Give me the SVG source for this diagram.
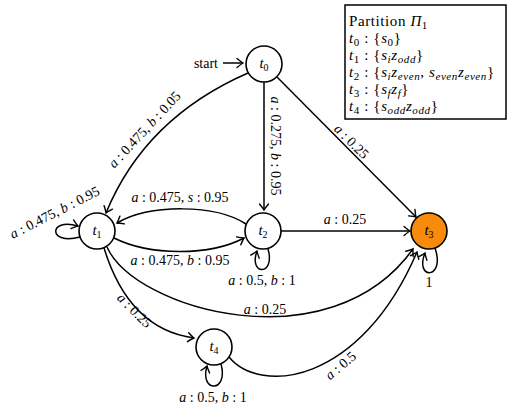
<svg xmlns="http://www.w3.org/2000/svg" width="508" height="408" viewBox="0 0 508 408">
<style>
text{font-family:"Liberation Serif","DejaVu Serif",serif;fill:#000}
.lb{font-size:14px}
.bx{font-size:15px;letter-spacing:0.6px}
.nd{font-size:15px}
.i{font-style:italic}
.sb{font-size:10px}
.bsb{font-size:11px}
.node circle{stroke:#000;stroke-width:1.6;fill:#fff}
.edge{fill:none;stroke:#000;stroke-width:1.5}
</style>
<defs>
<marker id="ah" viewBox="-8 -6 10 12" refX="0" refY="0" markerWidth="10" markerHeight="12" orient="auto" markerUnits="userSpaceOnUse">
<path d="M -6 -4.5 Q -1.8 -1 0 0 Q -1.8 1 -6 4.5" fill="none" stroke="#000" stroke-width="1.4" stroke-linecap="round"/>
</marker>
</defs>

<g id="partition">
<rect x="345" y="5" width="161" height="114" fill="#fff" stroke="#000" stroke-width="1.5"/>
<text class="bx" x="349" y="26">Partition <tspan class="i">Π</tspan><tspan class="bsb" dy="3">1</tspan></text>
<text class="bx" x="349" y="43"><tspan class="i">t</tspan><tspan class="bsb" dy="3">0</tspan><tspan dy="-3"> : {</tspan><tspan class="i">s</tspan><tspan class="bsb" dy="3">0</tspan><tspan dy="-3">}</tspan></text>
<text class="bx" x="349" y="60"><tspan class="i">t</tspan><tspan class="bsb" dy="3">1</tspan><tspan dy="-3"> : {</tspan><tspan class="i">s</tspan><tspan class="bsb i" dy="3">i</tspan><tspan class="i" dy="-3">z</tspan><tspan class="bsb i" dy="3">odd</tspan><tspan dy="-3">}</tspan></text>
<text class="bx" x="349" y="77"><tspan class="i">t</tspan><tspan class="bsb" dy="3">2</tspan><tspan dy="-3"> : {</tspan><tspan class="i">s</tspan><tspan class="bsb i" dy="3">i</tspan><tspan class="i" dy="-3">z</tspan><tspan class="bsb i" dy="3">even</tspan><tspan dy="-3">, </tspan><tspan class="i">s</tspan><tspan class="bsb i" dy="3">even</tspan><tspan class="i" dy="-3">z</tspan><tspan class="bsb i" dy="3">even</tspan><tspan dy="-3">}</tspan></text>
<text class="bx" x="349" y="94"><tspan class="i">t</tspan><tspan class="bsb" dy="3">3</tspan><tspan dy="-3"> : {</tspan><tspan class="i">s</tspan><tspan class="bsb i" dy="3">f</tspan><tspan class="i" dy="-3">z</tspan><tspan class="bsb i" dy="3">f</tspan><tspan dy="-3">}</tspan></text>
<text class="bx" x="349" y="111"><tspan class="i">t</tspan><tspan class="bsb" dy="3">4</tspan><tspan dy="-3"> : {</tspan><tspan class="i">s</tspan><tspan class="bsb i" dy="3">odd</tspan><tspan class="i" dy="-3">z</tspan><tspan class="bsb i" dy="3">odd</tspan><tspan dy="-3">}</tspan></text>
</g>

<g id="connectors">
<path class="edge" d="M 223 63 L 243 63" marker-end="url(#ah)"/>
<path class="edge" d="M 248 73 Q 145 118 106 213" marker-end="url(#ah)"/>
<path class="edge" d="M 264 82 L 264 210" marker-end="url(#ah)"/>
<path class="edge" d="M 277 77 L 416 217" marker-end="url(#ah)"/>
<path class="edge" d="M 80 237 C 48 246 48 217 78 226" marker-end="url(#ah)"/>
<path class="edge" d="M 246 224 C 215 204 150 204 117 223" marker-end="url(#ah)"/>
<path class="edge" d="M 114 238 C 150 256 210 256 244 238" marker-end="url(#ah)"/>
<path class="edge" d="M 268 249 C 276 276 248 276 257 251" marker-end="url(#ah)"/>
<path class="edge" d="M 281 231 L 410 231" marker-end="url(#ah)"/>
<path class="edge" d="M 435 248 C 446 280 414 280 425 253" marker-end="url(#ah)"/>
<path class="edge" d="M 107 247 C 135 310 330 365 413 249" marker-end="url(#ah)"/>
<path class="edge" d="M 104 248 C 120 300 150 332 194 338" marker-end="url(#ah)"/>
<path class="edge" d="M 221 364 C 229 393 199 393 207 366" marker-end="url(#ah)"/>
<path class="edge" d="M 229 357 C 260 395 360 385 417 252" marker-end="url(#ah)"/>

<text class="lb" x="218" y="68" text-anchor="end">start</text>
<text class="lb" transform="translate(145,130) rotate(-47)" y="4" text-anchor="middle"><tspan class="i">a</tspan> : 0.475, <tspan class="i">b</tspan> : 0.05</text>
<text class="lb" transform="translate(275,146) rotate(90)" y="4" text-anchor="middle"><tspan class="i">a</tspan> : 0.275, <tspan class="i">b</tspan> : 0.95</text>
<text class="lb" transform="translate(351,142) rotate(45)" y="4" text-anchor="middle"><tspan class="i">a</tspan> : 0.25</text>
<text class="lb" transform="translate(55,213) rotate(-27)" y="4" text-anchor="middle"><tspan class="i">a</tspan> : 0.475, <tspan class="i">b</tspan> : 0.95</text>
<text class="lb" x="180" y="202" text-anchor="middle"><tspan class="i">a</tspan> : 0.475, <tspan class="i">s</tspan> : 0.95</text>
<text class="lb" x="180" y="265" text-anchor="middle"><tspan class="i">a</tspan> : 0.475, <tspan class="i">b</tspan> : 0.95</text>
<text class="lb" x="262" y="285" text-anchor="middle"><tspan class="i">a</tspan> : 0.5, <tspan class="i">b</tspan> : 1</text>
<text class="lb" x="345" y="224" text-anchor="middle"><tspan class="i">a</tspan> : 0.25</text>
<text class="lb" x="429" y="287" text-anchor="middle">1</text>
<text class="lb" x="265" y="314" text-anchor="middle"><tspan class="i">a</tspan> : 0.25</text>
<text class="lb" transform="translate(134,311) rotate(45)" y="4" text-anchor="middle"><tspan class="i">a</tspan> : 0.25</text>
<text class="lb" x="213" y="402" text-anchor="middle"><tspan class="i">a</tspan> : 0.5, <tspan class="i">b</tspan> : 1</text>
<text class="lb" transform="translate(341,366) rotate(-40)" y="4" text-anchor="middle"><tspan class="i">a</tspan> : 0.5</text>
</g>

<g id="t0" class="node"><circle cx="264" cy="64" r="18"/><text class="nd" x="264" y="68" text-anchor="middle"><tspan class="i">t</tspan><tspan class="sb" dy="3">0</tspan></text></g>
<g id="t1" class="node"><circle cx="97" cy="231" r="18"/><text class="nd" x="97" y="235" text-anchor="middle"><tspan class="i">t</tspan><tspan class="sb" dy="3">1</tspan></text></g>
<g id="t2" class="node"><circle cx="263" cy="231" r="18"/><text class="nd" x="263" y="235" text-anchor="middle"><tspan class="i">t</tspan><tspan class="sb" dy="3">2</tspan></text></g>
<g id="t3" class="node"><circle cx="429" cy="231" r="18" style="fill:#F88A0C"/><text class="nd" x="429" y="235" text-anchor="middle"><tspan class="i">t</tspan><tspan class="sb" dy="3">3</tspan></text></g>
<g id="t4" class="node"><circle cx="214" cy="347" r="18"/><text class="nd" x="214" y="351" text-anchor="middle"><tspan class="i">t</tspan><tspan class="sb" dy="3">4</tspan></text></g>
</svg>
